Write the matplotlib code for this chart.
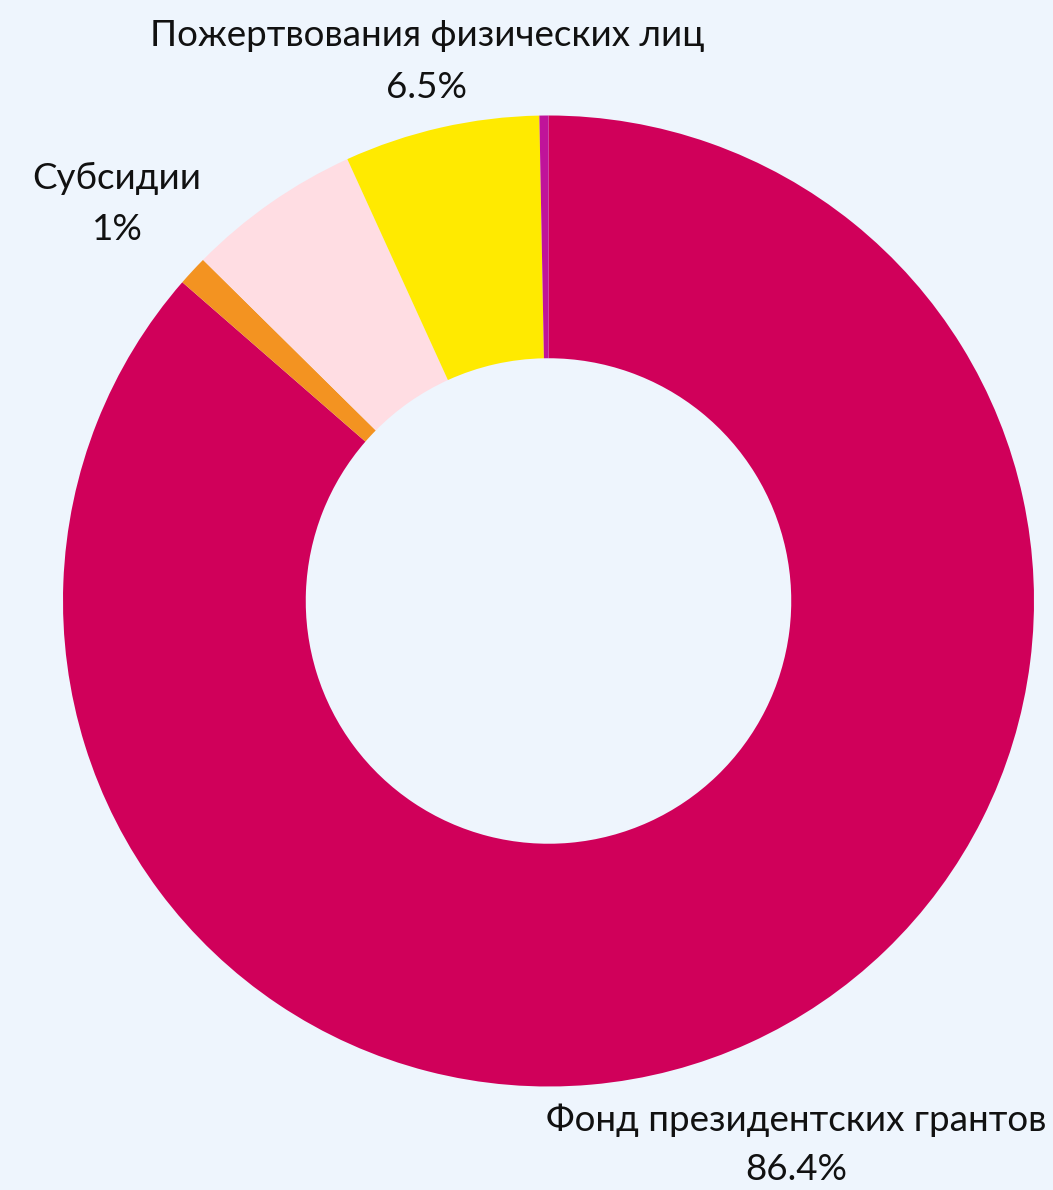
import matplotlib
matplotlib.use("Agg")
import matplotlib.pyplot as plt

categories = ["Фонд президентских грантов", "Субсидии", "Прочее", "Пожертвования физических лиц", "Иное"]
values = [86.4, 1.0, 5.8, 6.5, 0.3]
pct_labels = ["86.4%", "1%", "", "6.5%", ""]
show_label = [True, True, False, True, False]
colors = ["#D0005A", "#F39321", "#FFDDE3", "#FFEA00", "#C0139A"]

BG = "#EEF5FD"
W, H = 1053, 1190
cx, cy, R = 548.5, 601, 485.5

fig = plt.figure(figsize=(W / 100, H / 100), dpi=100, facecolor=BG)
ax = fig.add_axes([0, 0, 1, 1])
ax.set_facecolor(BG)
ax.pie(values, colors=colors, startangle=90, counterclock=False, radius=1.0,
       wedgeprops=dict(width=0.5, linewidth=0))
ax.set_xlim(-cx / R, (W - cx) / R)
ax.set_ylim(-(H - cy) / R, cy / R)
ax.set_aspect("auto")
ax.axis("off")

def px(x, y):
    return (x - cx) / R, (cy - y) / R

label_pos = {0: (796, 1120, 1169), 1: (117, 178, 230), 3: (427, 35, 87)}
font = dict(family=["Lato", "DejaVu Sans"], fontsize=26.5, color="#111111",
            ha="center", va="center")
for i, cat in enumerate(categories):
    if not show_label[i]:
        continue
    x, y1, y2 = label_pos[i]
    ax.text(*px(x, y1), cat, **font)
    ax.text(*px(x, y2), pct_labels[i], **font)

fig.savefig("out.png", dpi=100, facecolor=BG)
